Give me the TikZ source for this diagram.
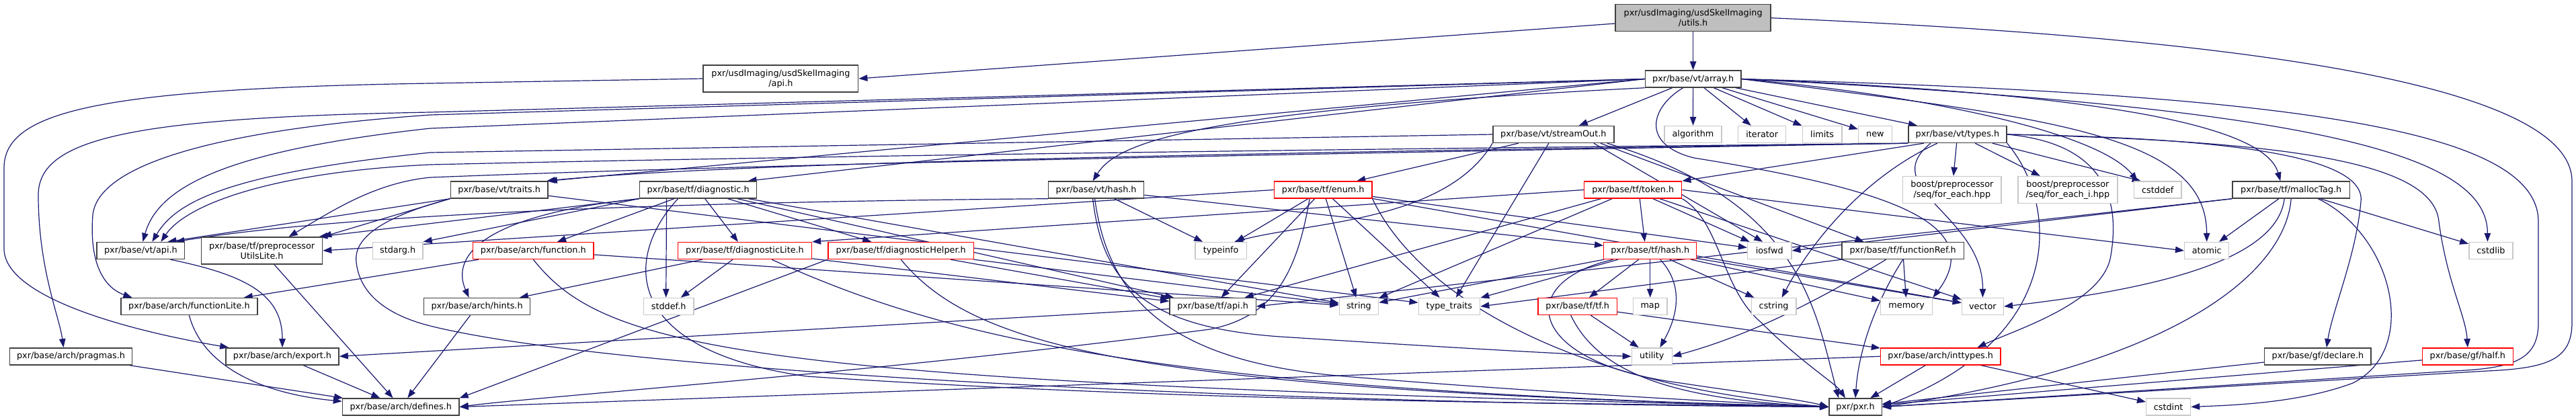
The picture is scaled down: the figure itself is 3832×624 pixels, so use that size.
\documentclass[tikz,border=0pt]{standalone}
\usepackage{fontspec}
\setmainfont{DejaVu Sans}
\usetikzlibrary{arrows.meta}
\definecolor{edgeblue}{RGB}{25,25,112}
\definecolor{grayfill}{RGB}{191,191,191}
\definecolor{sysborder}{RGB}{200,200,200}
\definecolor{boxborder}{RGB}{64,64,64}
\pgfdeclarelayer{back}
\pgfdeclarelayer{edges}
\pgfsetlayers{back,edges,main}
\begin{document}
\begin{tikzpicture}[x=1pt,y=-1pt,
  box/.style={draw=boxborder, line width=1.4pt, fill=white, inner sep=0pt, minimum height=25pt, align=center, text=black, font=\fontsize{12.8}{15}\selectfont},
  redbox/.style={box, draw=red},
  sysbox/.style={box, draw=sysborder},
  tall/.style={minimum height=40pt},
  e/.style={draw=edgeblue, line width=1.2pt, -{Triangle[length=13pt,width=9.5pt]}}
]
\begin{pgfonlayer}{back}
\fill[white] (0,0) rectangle (3832,624);
\end{pgfonlayer}
\useasboundingbox (0,0) rectangle (3832,624);

% ---- nodes ----
\node[box, tall, fill=grayfill, minimum width=231pt] (utils) at (2518.6,26.7) {pxr/usdImaging/usdSkelImaging\\/utils.h};
\node[box, tall, minimum width=230.6pt] (skelapi) at (1161.4,117) {pxr/usdImaging/usdSkelImaging\\/api.h};
\node[box, minimum width=142.5pt] (array) at (2518.6,117.5) {pxr/base/vt/array.h};

\node[box, minimum width=180pt] (streamOut) at (2310.8,200) {pxr/base/vt/streamOut.h};
\node[sysbox, minimum width=85pt] (algorithm) at (2518.5,200) {algorithm};
\node[sysbox, minimum width=71pt] (iterator) at (2621.2,200) {iterator};
\node[sysbox, minimum width=58.8pt] (limits) at (2710.6,200) {limits};
\node[sysbox, minimum width=49.8pt] (new) at (2789.4,200) {new};
\node[box, minimum width=146.1pt] (types) at (2911.9,200) {pxr/base/vt/types.h};

\node[sysbox, tall, minimum width=146.5pt] (foreach) at (2903.9,282.5) {boost/preprocessor\\/seq/for\_each.hpp};
\node[sysbox, tall, minimum width=147.8pt] (foreachi) at (3075.9,282.5) {boost/preprocessor\\/seq/for\_each\_i.hpp};
\node[sysbox, minimum width=70.8pt] (cstddef) at (3209.7,282.5) {cstddef};
\node[box, minimum width=174.3pt] (mallocTag) at (3408.2,282.5) {pxr/base/tf/mallocTag.h};
\node[box, minimum width=144.9pt] (traits) at (742.7,282.5) {pxr/base/vt/traits.h};
\node[box, minimum width=174.3pt] (diagnostic) at (1038.6,282.5) {pxr/base/tf/diagnostic.h};
\node[box, minimum width=142pt] (vthash) at (1630.6,282.5) {pxr/base/vt/hash.h};
\node[redbox, minimum width=145.3pt] (enum) at (1968.2,282.5) {pxr/base/tf/enum.h};
\node[redbox, minimum width=144.9pt] (token) at (2429.2,282.5) {pxr/base/tf/token.h};

\node[box, minimum width=130.6pt] (vtapi) at (209.4,373) {pxr/base/vt/api.h};
\node[box, tall, minimum width=180pt] (ppul) at (389.6,373) {pxr/base/tf/preprocessor\\UtilsLite.h};
\node[sysbox, minimum width=74.7pt] (stdarg) at (591.6,373) {stdarg.h};
\node[redbox, minimum width=179.2pt] (archfunction) at (793.3,373) {pxr/base/arch/function.h};
\node[redbox, minimum width=198.8pt] (diaglite) at (1108,373) {pxr/base/tf/diagnosticLite.h};
\node[redbox, minimum width=216.8pt] (diaghelper) at (1340.2,373) {pxr/base/tf/diagnosticHelper.h};
\node[sysbox, minimum width=76.3pt] (typeinfo) at (1816.2,373) {typeinfo};
\node[redbox, minimum width=138pt] (tfhash) at (2454.7,373) {pxr/base/tf/hash.h};
\node[sysbox, minimum width=65.3pt] (iosfwd) at (2632.2,373) {iosfwd};
\node[box, minimum width=181.2pt] (functionRef) at (2830.6,373) {pxr/base/tf/functionRef.h};
\node[sysbox, minimum width=66.1pt] (atomic) at (3282.7,373) {atomic};
\node[sysbox, minimum width=65.3pt] (cstdlib) at (3705.4,373) {cstdlib};

\node[box, minimum width=202.9pt] (functionLite) at (281.4,456) {pxr/base/arch/functionLite.h};
\node[box, minimum width=158pt] (hints) at (709.6,456) {pxr/base/arch/hints.h};
\node[sysbox, minimum width=74.3pt] (stddef) at (994.7,456) {stddef.h};
\node[box, minimum width=128.2pt] (tfapi) at (1804.1,456) {pxr/base/tf/api.h};
\node[sysbox, minimum width=58.4pt] (string) at (2021.4,456) {string};
\node[sysbox, minimum width=91.4pt] (typetraits) at (2155.9,456) {type\_traits};
\node[redbox, minimum width=117.1pt] (tftf) at (2346.7,456) {pxr/base/tf/tf.h};
\node[sysbox, minimum width=50.6pt] (map) at (2454.7,456) {map};
\node[sysbox, minimum width=66.5pt] (cstring) at (2638.6,456) {cstring};
\node[sysbox, minimum width=77.1pt] (memory) at (2836.2,456) {memory};
\node[sysbox, minimum width=62pt] (vector) at (2949.4,456) {vector};

\node[box, minimum width=182.4pt] (pragmas) at (105.5,530.3) {pxr/base/arch/pragmas.h};
\node[box, minimum width=168.2pt] (export) at (420,530.3) {pxr/base/arch/export.h};
\node[sysbox, minimum width=60pt] (utility) at (2457.3,530.3) {utility};
\node[redbox, minimum width=178.3pt] (inttypes) at (2886.7,530.3) {pxr/base/arch/inttypes.h};
\node[box, minimum width=158.4pt] (declare) at (3447.9,530.3) {pxr/base/gf/declare.h};
\node[redbox, minimum width=134.7pt] (half) at (3670.8,530.3) {pxr/base/gf/half.h};

\node[box, minimum width=173.5pt] (defines) at (596.2,605.5) {pxr/base/arch/defines.h};
\node[box, minimum width=78.4pt] (pxr) at (2760,605.5) {pxr/pxr.h};
\node[sysbox, minimum width=65.8pt] (cstdint) at (3225.6,605.5) {cstdint};

% ---- edges ----
\begin{pgfonlayer}{edges}
% utils
\draw[e] (utils) -- (skelapi.east);
\draw[e] (utils) -- (array);
\draw[e] (utils.east) .. controls (3300,55) and (3826,120) .. (3826,270) -- (3826,480) .. controls (3826,535) and (3790,548) .. (3700,552) -- (pxr.east);
% skelapi
\draw[e] (skelapi.west) -- (640,124) .. controls (150,132) and (6,165) .. (6,250) -- (6,370) .. controls (6,440) and (180,490) .. ([xshift=5pt]export.north west);
% array
\draw[e] (array.west) -- (640,167) .. controls (200,175) and (57,205) .. (57,290) .. controls (57,400) and (88,470) .. ([xshift=-11pt]pragmas.north);
\draw[e] (array.west) -- (640,171) .. controls (300,195) and (145,250) .. (138,320) .. controls (132,400) and (160,430) .. ([xshift=-85pt]functionLite.north);
\draw[e] (array.west) -- (640,191) .. controls (330,225) and (235,280) .. ([xshift=3pt]vtapi.north);
\draw[e] (array.west) -- (traits.north east);
\draw[e] (array.west) -- ([xshift=-14pt]diagnostic.north east);
\draw[e] (array.south west) .. controls (1760,165) and (1660,215) .. ([xshift=-5pt]vthash.north);
\draw[e] ([xshift=-31pt]array.south) -- ([xshift=38pt]streamOut.north);
\draw[e] (array) -- (algorithm);
\draw[e] (array) -- (iterator);
\draw[e] (array) -- (limits);
\draw[e] (array) -- (new);
\draw[e] (array) -- ([xshift=-60pt]types.north);
\draw[e] (array.east) .. controls (3150,140) and (3370,190) .. ([xshift=-16pt]mallocTag.north);
\draw[e] (array.east) .. controls (2850,140) and (3120,195) .. ([xshift=-30pt]cstddef.north);
\draw[e] (array.east) .. controls (3050,175) and (3282,200) .. (atomic.north);
\draw[e] (array.east) .. controls (3450,160) and (3700,230) .. ([xshift=-5pt]cstdlib.north);
\draw[e] (array.east) .. controls (3400,140) and (3776,190) .. (3776,330) -- (3776,480) .. controls (3776,535) and (3740,548) .. (3650,552) -- (pxr.east);
\draw[e] ([xshift=-15pt]array.south) .. controls (2455,160) and (2440,215) .. (2520,235) .. controls (2800,280) and (2960,330) .. (memory.north east);
% streamOut
\draw[e] (streamOut.west) -- (640,227) .. controls (340,258) and (262,300) .. ([xshift=17pt]vtapi.north);
\draw[e] ([xshift=-52pt]streamOut.south) -- ([xshift=50pt]enum.north);
\draw[e] (streamOut.south west) .. controls (2150,330) and (1950,330) .. ([xshift=20pt]typeinfo.north);
\draw[e] ([xshift=-7pt]streamOut.south) -- ([xshift=10pt]typetraits.north);
\draw[e] ([xshift=60pt]streamOut.south) -- ([xshift=-10pt]iosfwd.north);
\draw[e] ([xshift=70pt]streamOut.south) -- ([xshift=-58pt]functionRef.north);
\draw[e] ([xshift=80pt]streamOut.south) .. controls (2680,300) and (2700,460) .. ([xshift=-25pt]pxr.north);
% types
\draw[e] (types.south west) .. controls (2000,222) and (1200,232) .. (640,245) .. controls (420,255) and (280,300) .. ([xshift=30pt]vtapi.north);
\draw[e] (types.south west) .. controls (2000,225) and (1100,240) .. ([xshift=-3pt]traits.north east);
\draw[e] (types.south west) .. controls (2000,228) and (1200,242) .. (640,264) .. controls (560,272) and (500,310) .. ([xshift=40pt]ppul.north);
\draw[e] ([xshift=-50pt]types.south) -- (token.north east);
\draw[e] (types) -- (foreach);
\draw[e] (types) -- (foreachi);
\draw[e] (types) -- ([xshift=-25pt]cstddef.north);
\draw[e] ([xshift=-30pt]types.south) .. controls (2780,260) and (2700,350) .. ([xshift=12pt]cstring.north);
\draw[e] ([xshift=-40pt]types.south) .. controls (2790,280) and (2950,320) .. (vector.north);
\draw[e] (types.east) .. controls (3300,205) and (3520,230) .. (3512,300) .. controls (3505,380) and (3470,460) .. ([xshift=13pt]declare.north);
\draw[e] (types.east) .. controls (3400,210) and (3620,240) .. (3628,330) .. controls (3640,420) and (3668,470) .. (half.north);
\draw[e] (types.east) .. controls (3150,215) and (3150,320) .. (3140,380) .. controls (3130,450) and (3000,490) .. ([xshift=-35pt]inttypes.north east);
\draw[e] (types.south east) .. controls (3060,300) and (3080,500) .. (pxr.east);
% mallocTag
\draw[e] (mallocTag) -- (atomic);
\draw[e] (mallocTag) -- (cstdlib);
\draw[e] ([xshift=40pt]mallocTag.south) .. controls (3560,350) and (3600,520) .. (3500,570) .. controls (3420,600) and (3320,603) .. (cstdint.east);
\draw[e] (mallocTag.south) .. controls (3400,400) and (3250,540) .. (pxr.east);
\draw[e] ([xshift=-10pt]mallocTag.south) .. controls (3390,360) and (3300,420) .. (vector.east);
\draw[e] (mallocTag.south west) -- (tfapi.east);
\draw[e] (mallocTag.south west) -- (iosfwd.east);
% token
\draw[e] (token) -- (tfapi);
\draw[e] ([xshift=10pt]token.south) -- ([xshift=-8pt]tfhash.north);
\draw[e] (token.west) -- (diaglite.north east);
\draw[e] (token) -- (string);
\draw[e] (token) -- (iosfwd);
\draw[e] (token) -- (vector);
\draw[e] (token.east) -- (atomic.west);
\draw[e] (token.south east) .. controls (2560,330) and (2560,430) .. (2620,480) .. controls (2680,540) and (2730,570) .. ([xshift=-15pt]pxr.north);
% enum
\draw[e] (enum) -- (tfapi);
\draw[e] (enum.west) -- (ppul.east);
\draw[e] ([xshift=-20pt]enum.south) .. controls (1930,400) and (1900,470) .. (1800,490) .. controls (1300,555) and (800,590) .. (defines.east);
\draw[e] (enum) -- (string);
\draw[e] (enum) -- (typeinfo);
\draw[e] (enum) -- (typetraits);
\draw[e] (enum) -- (iosfwd);
\draw[e] (enum) -- (vector);
\draw[e] (enum.south east) .. controls (2100,420) and (2300,570) .. (pxr.west);
% diagnostic
\draw[e] (diagnostic) -- (tfapi);
\draw[e] (diagnostic) -- (diaglite);
\draw[e] (diagnostic) -- (diaghelper);
\draw[e] (diagnostic.south west) -- ([xshift=-6pt]ppul.north east);
\draw[e] (diagnostic) -- (archfunction);
\draw[e] (diagnostic.south west) .. controls (720,320) and (670,380) .. ([xshift=-12pt]hints.north);
\draw[e] ([xshift=-47pt]diagnostic.south) -- ([xshift=-4pt]stddef.north);
\draw[e] (diagnostic.south west) -- (stdarg.north east);
\draw[e] (diagnostic) -- (string);
\draw[e] ([xshift=-30pt]diagnostic.south) .. controls (930,380) and (920,520) .. (1200,560) .. controls (1800,600) and (2400,600) .. (pxr.west);
% diagnosticLite
\draw[e] (diaglite) -- (tfapi);
\draw[e] (diaglite) -- (hints);
\draw[e] (diaglite) -- (stddef);
\draw[e] ([xshift=40pt]diaglite.south) .. controls (1400,500) and (1700,580) .. (pxr.west);
% diagnosticHelper
\draw[e] (diaghelper) -- (tfapi);
\draw[e] (diaghelper.south west) -- (defines.north east);
\draw[e] (diaghelper) -- (string);
\draw[e] (diaghelper.south) .. controls (1450,520) and (1700,580) .. (pxr.west);
% arch/function
\draw[e] (archfunction) -- (functionLite);
\draw[e] (archfunction) -- (string);
\draw[e] (archfunction.south) .. controls (900,520) and (1100,570) .. (pxr.west);
% traits
\draw[e] (traits.south west) -- ([xshift=40pt]vtapi.north);
\draw[e] (traits.south west) -- (ppul.north east);
\draw[e] (traits) -- (typetraits);
\draw[e] (traits.south west) .. controls (580,320) and (525,350) .. (530,390) .. controls (535,440) and (580,470) .. (640,485) .. controls (900,550) and (1800,600) .. (pxr.west);
% vt/hash
\draw[e] (vthash.south west) .. controls (1000,300) and (500,320) .. ([xshift=52pt]vtapi.north);
\draw[e] (vthash) -- (tfhash);
\draw[e] (vthash) -- (typeinfo);
\draw[e] ([xshift=-5pt]vthash.south) .. controls (1640,420) and (1700,490) .. (1920,502) .. controls (2200,520) and (2350,528) .. (utility.west);
\draw[e] ([xshift=-2pt]vthash.south) .. controls (1650,460) and (1760,540) .. (2000,560) .. controls (2300,585) and (2600,600) .. (pxr.west);
% tf/hash
\draw[e] (tfhash) -- (tftf);
\draw[e] (tfhash) -- (map);
\draw[e] ([xshift=15pt]tfhash.south) .. controls (2510,430) and (2490,480) .. ([xshift=12pt]utility.north);
\draw[e] (tfhash) -- (string);
\draw[e] (tfhash) -- (typetraits);
\draw[e] ([xshift=-55pt]tfhash.south) .. controls (2250,420) and (2270,540) .. (2500,570) .. controls (2600,585) and (2680,595) .. (pxr.west);
\draw[e] (tfhash) -- (cstring);
\draw[e] (tfhash) -- (memory);
\draw[e] (tfhash) -- (vector);
% tf/tf
\draw[e] (tftf) -- (utility);
\draw[e] (tftf) -- (inttypes);
\draw[e] ([xshift=-10pt]tftf.south) .. controls (2380,560) and (2500,595) .. (pxr.west);
% functionRef
\draw[e] (functionRef) -- (memory);
\draw[e] (functionRef.south) .. controls (2790,450) and (2765,520) .. (pxr.north);
\draw[e] ([xshift=-25pt]functionRef.south) .. controls (2700,450) and (2600,500) .. (utility.east);
\draw[e] (functionRef.south west) -- (typetraits.east);
% inttypes
\draw[e] (inttypes) -- (pxr);
\draw[e] (inttypes) -- (cstdint);
\draw[e] (inttypes.west) -- (defines.east);
% gf
\draw[e] (declare) -- (pxr);
\draw[e] (half) -- (pxr);
% arch
\draw[e] ([xshift=44pt]vtapi.south) .. controls (370,410) and (420,440) .. (export.north);
\draw[e] (tfapi) -- (export.east);
\draw[e] (export) -- (defines);
\draw[e] (ppul) -- (defines);
\draw[e] (functionLite.south) .. controls (300,540) and (380,585) .. (defines);
\draw[e] (pragmas) -- (defines);
\draw[e] (hints) -- (defines);
\end{pgfonlayer}
\end{tikzpicture}
\end{document}
